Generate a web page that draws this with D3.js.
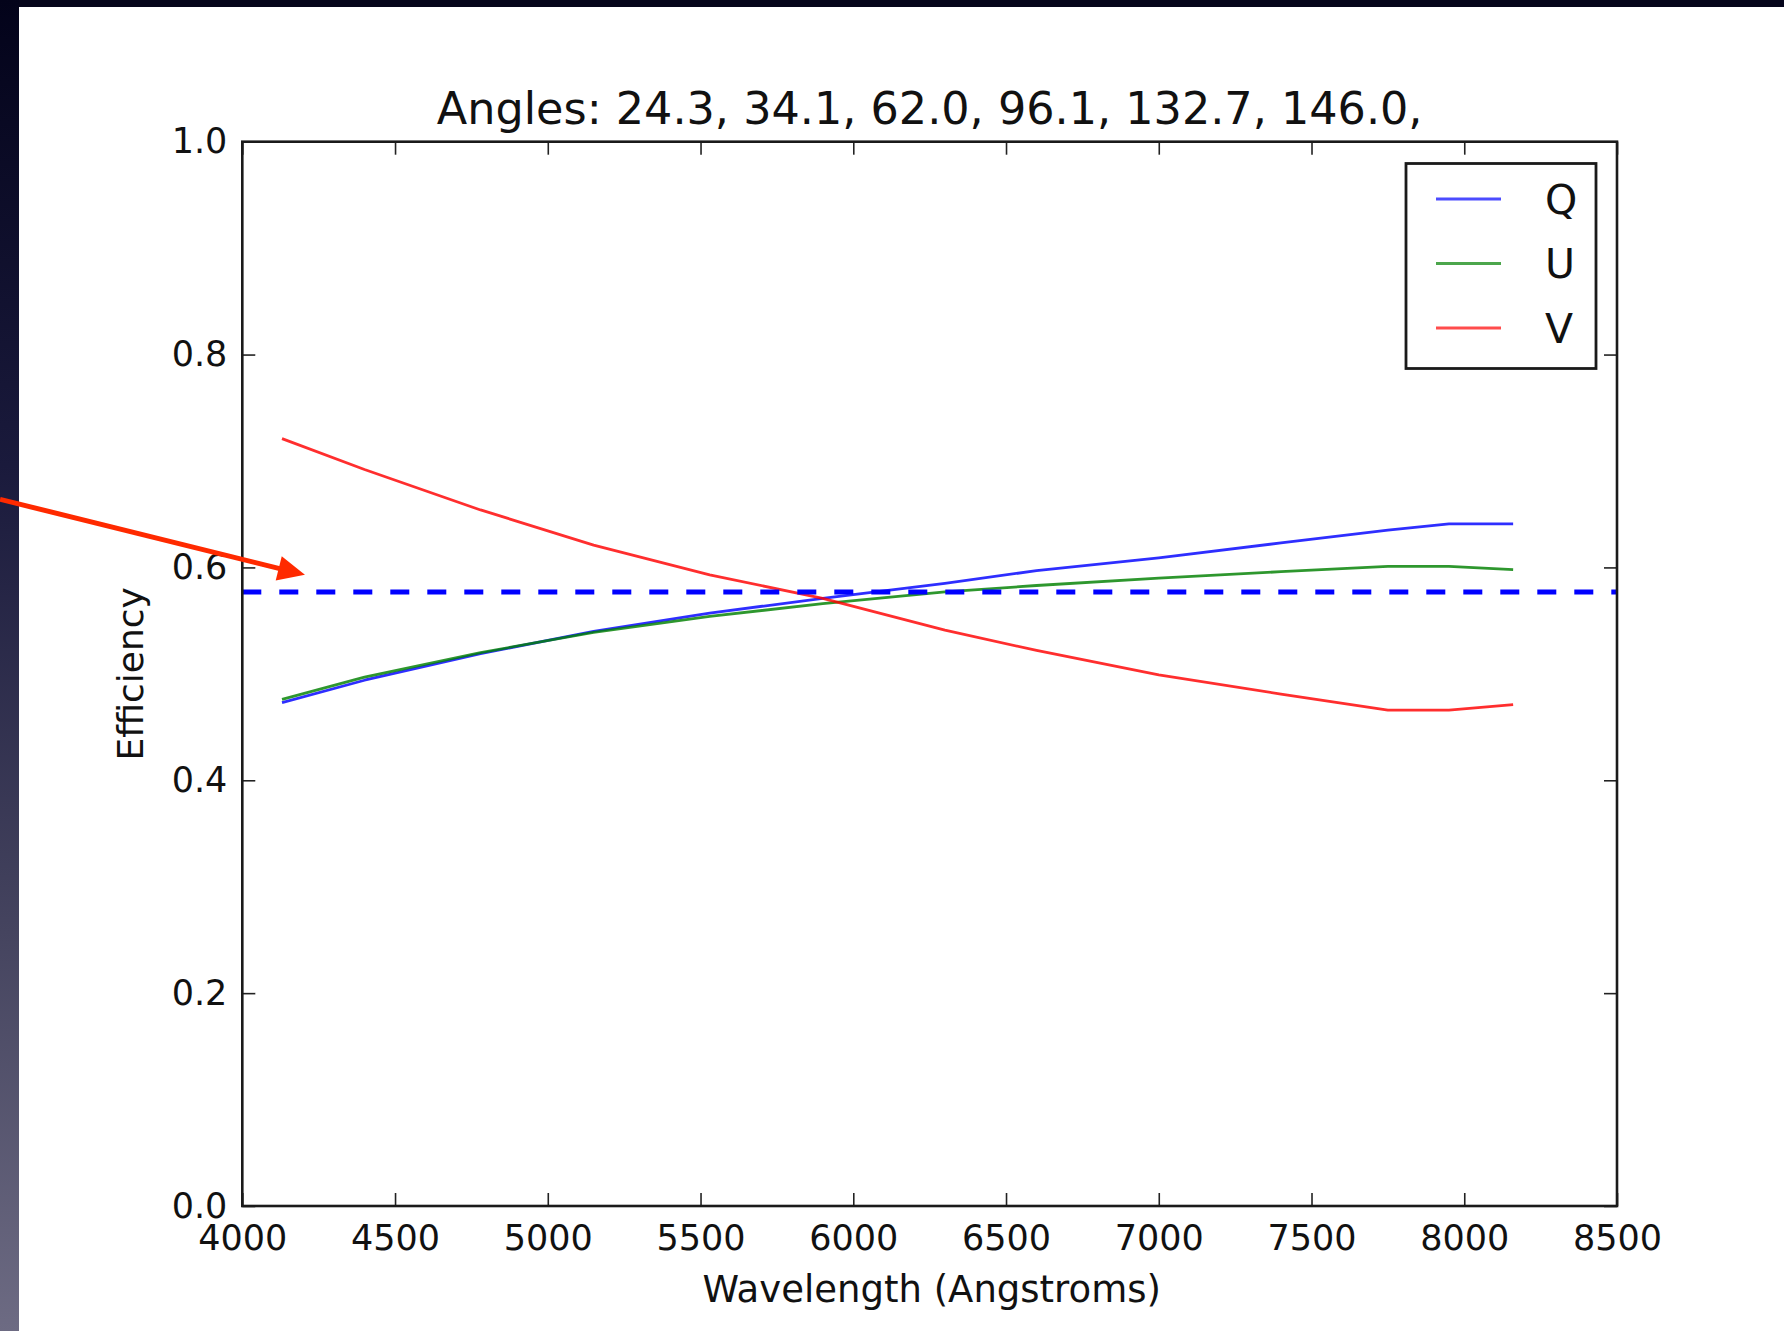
<!DOCTYPE html>
<html>
<head>
<meta charset="utf-8">
<script src="https://cdn.jsdelivr.net/npm/d3@7/dist/d3.min.js"></script>
<style>
  html, body { margin: 0; padding: 0; background: #ffffff; }
  svg { display: block; }
  text { font-family: "DejaVu Sans", sans-serif; fill: #111; }
</style>
</head>
<body>
<svg id="chart" width="1784" height="1331"></svg>
<script>
// Wavelength samples (Angstroms)
const wavelengths = [4130, 4400, 4780, 5150, 5530, 5900, 6300, 6600, 7000, 7400, 7750, 7950, 8160];

// Modulation efficiencies per Stokes parameter
const effQ = [0.473, 0.494, 0.519, 0.540, 0.557, 0.571, 0.585, 0.597, 0.609, 0.623, 0.635, 0.641, 0.641];
const effU = [0.476, 0.497, 0.520, 0.539, 0.554, 0.566, 0.577, 0.583, 0.590, 0.596, 0.601, 0.601, 0.598];
const effV = [0.721, 0.692, 0.654, 0.621, 0.593, 0.571, 0.541, 0.522, 0.499, 0.481, 0.466, 0.466, 0.471];

const seriesNames = ["Q", "U", "V"];
const seriesColors = ["#0000ff", "#008000", "#ff0000"];

// Optimal balanced efficiency 1/sqrt(3)
const optimalEff = 0.577;

const xTicks = [4000, 4500, 5000, 5500, 6000, 6500, 7000, 7500, 8000, 8500];
const yTicks = [0.0, 0.2, 0.4, 0.6, 0.8, 1.0];

const titleText = "Angles: 24.3, 34.1, 62.0, 96.1, 132.7, 146.0,";
const xLabel = "Wavelength (Angstroms)";
const yLabel = "Efficiency";

// Pointer annotation (data coordinates: tail off the left edge, head at the dashed line)
const pointerTail = [3207, 0.664];
const pointerHead = [4205, 0.593];

(function draw() {
  const svg = d3.select("#chart");
  const W = 1784, H = 1331;

  // Slide frame: dark top strip and a graded left band
  const defs = svg.append("defs");
  const grad = defs.append("linearGradient").attr("id", "band").attr("x1", 0).attr("y1", 0).attr("x2", 0).attr("y2", 1);
  grad.append("stop").attr("offset", "0%").attr("stop-color", "#03031a");
  grad.append("stop").attr("offset", "35%").attr("stop-color", "#1a1a3c");
  grad.append("stop").attr("offset", "70%").attr("stop-color", "#45445f");
  grad.append("stop").attr("offset", "100%").attr("stop-color", "#6d6b83");
  svg.append("rect").attr("x", 0).attr("y", 0).attr("width", W).attr("height", H).attr("fill", "#ffffff");
  svg.append("rect").attr("x", 0).attr("y", 0).attr("width", W).attr("height", 7).attr("fill", "#05051b");
  svg.append("rect").attr("x", 0).attr("y", 0).attr("width", 19).attr("height", H).attr("fill", "url(#band)");

  const pL = 242.3, pR = 1617, pT = 141.7, pB = 1206;
  const x = d3.scaleLinear().domain([4000, 8500]).range([pL, pR]);
  const y = d3.scaleLinear().domain([0, 1]).range([pB, pT]);

  const g = svg.append("g");

  // Axes with inward ticks on all four sides
  const tickLen = 13;
  const axB = g.append("g").attr("transform", `translate(0,${pB})`)
    .call(d3.axisBottom(x).tickValues(xTicks).tickSize(-tickLen).tickPadding(19).tickFormat(d3.format("d")));
  const axT = g.append("g").attr("transform", `translate(0,${pT})`)
    .call(d3.axisTop(x).tickValues(xTicks).tickSize(-tickLen).tickFormat(""));
  const axL = g.append("g").attr("transform", `translate(${pL},0)`)
    .call(d3.axisLeft(y).tickValues(yTicks).tickSize(-tickLen).tickPadding(15).tickFormat(d3.format(".1f")));
  const axR = g.append("g").attr("transform", `translate(${pR},0)`)
    .call(d3.axisRight(y).tickValues(yTicks).tickSize(-tickLen).tickFormat(""));

  [axB, axT, axL, axR].forEach(a => {
    a.select(".domain").remove();
    a.selectAll(".tick line").attr("stroke", "#222").attr("stroke-width", 1.6);
    a.selectAll(".tick text").attr("font-family", "DejaVu Sans").attr("font-size", 35).attr("fill", "#111");
  });

  // Efficiency curves
  const line = d3.line().x(d => x(d[0])).y(d => y(d[1]));
  const allSeries = [effQ, effU, effV];
  allSeries.forEach((vals, i) => {
    g.append("path")
      .datum(wavelengths.map((w, j) => [w, vals[j]]))
      .attr("d", line)
      .attr("fill", "none")
      .attr("stroke", seriesColors[i])
      .attr("stroke-width", 2.8)
      .attr("stroke-opacity", 0.82)
      .attr("stroke-linejoin", "round");
  });

  // Reference level
  g.append("line")
    .attr("x1", x(4000)).attr("x2", x(8500))
    .attr("y1", y(optimalEff)).attr("y2", y(optimalEff))
    .attr("stroke", "#0000ff").attr("stroke-width", 5)
    .attr("stroke-dasharray", "19,18");

  // Plot frame
  g.append("rect")
    .attr("x", pL).attr("y", pT)
    .attr("width", pR - pL).attr("height", pB - pT)
    .attr("fill", "none").attr("stroke", "#1a1a1a").attr("stroke-width", 2.6);

  // Title and axis labels
  g.append("text").attr("x", (pL + pR) / 2).attr("y", 124)
    .attr("text-anchor", "middle").attr("font-size", 44.5).text(titleText);
  g.append("text").attr("x", (pL + pR) / 2 + 2).attr("y", 1302)
    .attr("text-anchor", "middle").attr("font-size", 37).text(xLabel);
  g.append("text").attr("transform", `translate(143,${(pT + pB) / 2}) rotate(-90)`)
    .attr("text-anchor", "middle").attr("font-size", 36).text(yLabel);

  // Legend
  const leg = g.append("g").attr("transform", "translate(1406,163.5)");
  leg.append("rect").attr("x", 0).attr("y", 0).attr("width", 190).attr("height", 205)
    .attr("fill", "#ffffff").attr("stroke", "#1a1a1a").attr("stroke-width", 2.8);
  seriesNames.forEach((name, i) => {
    const ly = 35.5 + i * 64.5;
    leg.append("line").attr("x1", 30).attr("x2", 95).attr("y1", ly).attr("y2", ly)
      .attr("stroke", seriesColors[i]).attr("stroke-width", 3).attr("stroke-opacity", 0.7);
    leg.append("text").attr("x", 139).attr("y", ly).attr("dy", "0.36em")
      .attr("font-size", 41).text(name);
  });

  // Pointer arrow
  const ax0 = x(pointerTail[0]), ay0 = y(pointerTail[1]);
  const ax1 = x(pointerHead[0]), ay1 = y(pointerHead[1]);
  const ang = Math.atan2(ay1 - ay0, ax1 - ax0);
  const headLen = 27, headHalf = 12.5;
  const bx = ax1 - headLen * Math.cos(ang), by = ay1 - headLen * Math.sin(ang);
  const px = -Math.sin(ang), py = Math.cos(ang);
  svg.append("line").attr("x1", ax0).attr("y1", ay0).attr("x2", bx + 2 * Math.cos(ang)).attr("y2", by + 2 * Math.sin(ang))
    .attr("stroke", "#ff2a00").attr("stroke-width", 5);
  svg.append("path")
    .attr("d", `M${ax1},${ay1}L${bx + headHalf * px},${by + headHalf * py}L${bx - headHalf * px},${by - headHalf * py}Z`)
    .attr("fill", "#ff2a00");
})();
</script>
</body>
</html>
